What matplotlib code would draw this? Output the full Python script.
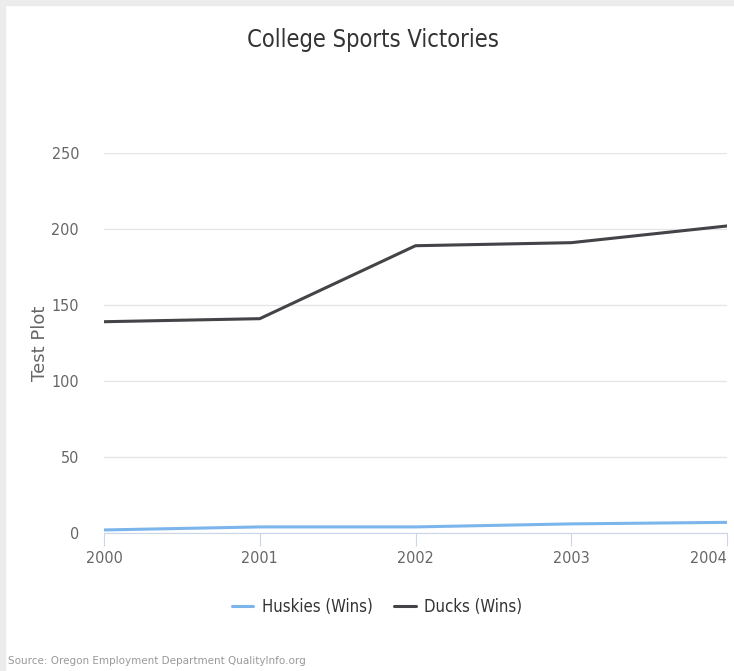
import matplotlib.pyplot as plt
from matplotlib.patches import Rectangle

# Data
years = [2000, 2001, 2002, 2003, 2004]
huskies = [2, 4, 4, 6, 7]
ducks = [139, 141, 189, 191, 202]

plt.rcParams['font.family'] = ['DejaVu Sans']
plt.rcParams['font.stretch'] = 'condensed'

fig = plt.figure(figsize=(7.34, 6.71), dpi=100)
ax = fig.add_axes([104 / 734, 1 - 533 / 671, (727 - 104) / 734, (533 - 153) / 671])

ax.plot(years, huskies, color='#7cb5ec', lw=2.2, label='Huskies (Wins)', solid_capstyle='round')
ax.plot(years, ducks, color='#434348', lw=2.2, label='Ducks (Wins)', solid_capstyle='round')

ax.set_xlim(2000, 2004)
ax.set_ylim(0, 250)
ax.set_xticks(years)
ax.set_yticks(range(0, 251, 50))
ax.grid(axis='y', color='#e6e6e6', lw=1)
ax.set_axisbelow(True)
for s in ['top', 'right', 'left']:
    ax.spines[s].set_visible(False)
ax.spines['bottom'].set_color('#ccd6eb')
ax.tick_params(axis='x', colors='#ccd6eb', labelcolor='#666666', labelsize=11.5, length=9, pad=4)
ax.tick_params(axis='y', length=0, labelcolor='#666666', labelsize=11.5, pad=18)
# last label pulled inside like the original
ax.get_xticklabels()[-1].set_horizontalalignment('right')
ax.get_xticklabels()[-1].set_x(2004.05)

ax.set_ylabel('Test Plot', fontsize=13, color='#666666', labelpad=2, fontstretch='normal')

fig.text(373 / 734, 1 - 40 / 671, 'College Sports Victories', ha='center', va='center',
         fontsize=17, color='#333333')

leg = ax.legend(loc='center', bbox_to_anchor=(377 / 734, 1 - 607 / 671),
                bbox_transform=fig.transFigure, ncol=2, frameon=False,
                fontsize=12, handlelength=1.3, columnspacing=1.3, handletextpad=0.5)
for t in leg.get_texts():
    t.set_color('#333333')

fig.text(8 / 734, 1 - 661 / 671, 'Source: Oregon Employment Department QualityInfo.org',
         ha='left', va='center', fontsize=7.5, color='#999999', fontstretch='normal')

# light border on top and left
fig.patches.append(Rectangle((0, 1 - 5 / 671), 1, 5 / 671, transform=fig.transFigure,
                             color='#ececec', zorder=0))
fig.patches.append(Rectangle((0, 0), 5 / 734, 1, transform=fig.transFigure,
                             color='#ececec', zorder=0))

fig.savefig('out.png', dpi=100)
